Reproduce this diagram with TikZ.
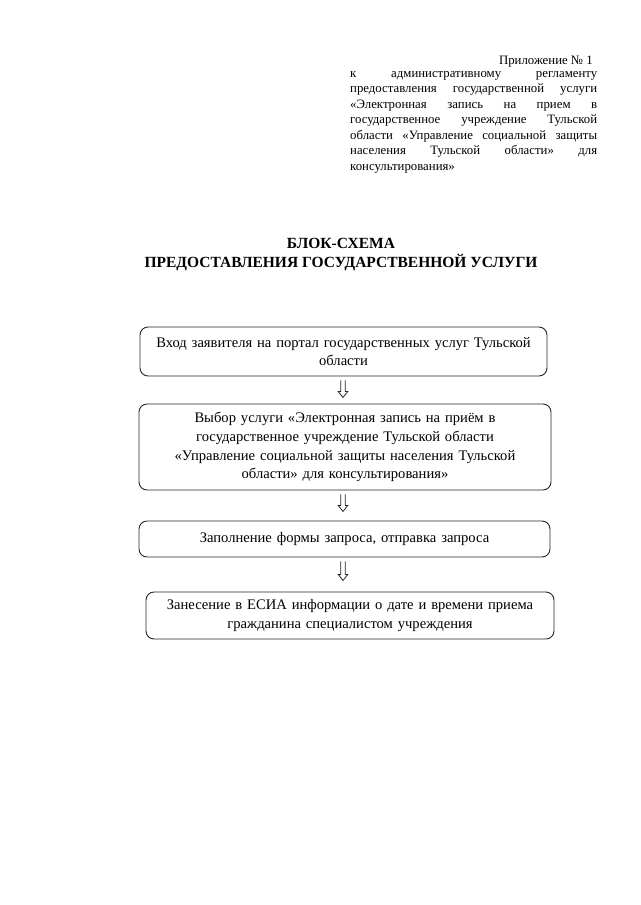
\documentclass[tikz,border=0pt]{standalone}
\usepackage{fontspec}
\setmainfont{Liberation Serif}
\usetikzlibrary{calc}
\begin{document}
\begin{tikzpicture}[x=1pt,y=-1pt,
  stepbox/.style={draw=black!85, line width=0.9pt, rounded corners=8pt, align=center,
    inner sep=0pt, font=\fontsize{14.6}{18.8}\selectfont},
  hollow/.style={draw=black!85, line width=0.8pt, line join=miter}]
\useasboundingbox (0,0) rectangle (640,905);
% annex text
\node[anchor=north east, inner sep=0pt, font=\fontsize{12.8}{15.5}\selectfont] (annex) at (593,56) {Приложение № 1};
\node[anchor=north west, inner sep=0pt, text width=247pt, align=justify,
  font=\fontsize{12.8}{15.5}\selectfont] (annextext) at (350,71)
  {к административному регламенту\linebreak
   предоставления государственной услуги\linebreak
   «Электронная запись на прием в\linebreak
   государственное учреждение Тульской\linebreak
   области «Управление социальной защиты\linebreak
   населения Тульской области» для\linebreak
   консультирования»};
% title
\node[inner sep=0pt, align=center, font=\bfseries\fontsize{15.5}{19}\selectfont] (title) at (341,255)
  {БЛОК-СХЕМА\\ПРЕДОСТАВЛЕНИЯ ГОСУДАРСТВЕННОЙ УСЛУГИ};
% boxes
\node[stepbox, minimum width=407pt, minimum height=49pt, text width=395pt] (b1) at (343.5,351.5)
  {Вход заявителя на портал государственных услуг Тульской\\области};
\node[stepbox, minimum width=412pt, minimum height=86pt, text width=400pt] (b2) at (345,447)
  {Выбор услуги «Электронная запись на приём в\\государственное учреждение Тульской области\\«Управление социальной защиты населения Тульской\\области» для консультирования»};
\node[stepbox, minimum width=411pt, minimum height=36pt, text width=400pt] (b3) at (344.5,539)
  {Заполнение формы запроса, отправка запроса};
\node[stepbox, minimum width=408pt, minimum height=47pt, text width=396pt] (b4) at (350,615.5)
  {Занесение в ЕСИА информации о дате и времени приема\\гражданина специалистом учреждения};
% hollow arrows
\coordinate (a1) at ($(343,0)!(b1.south)!(343,1)$);
\coordinate (a2) at ($(343,0)!(b2.south)!(343,1)$);
\coordinate (a3) at ($(343,0)!(b3.south)!(343,1)$);
\foreach \a/\len in {a1/17, a2/17, a3/19}{
  \draw[hollow] ($(\a)+(-2.2,4)$) -- ++(0,\len-6) -- ++(-2.6,0) -- ++(4.8,6) -- ++(4.8,-6) -- ++(-2.6,0) -- ++(0,-\len+6);
}
\end{tikzpicture}
\end{document}
